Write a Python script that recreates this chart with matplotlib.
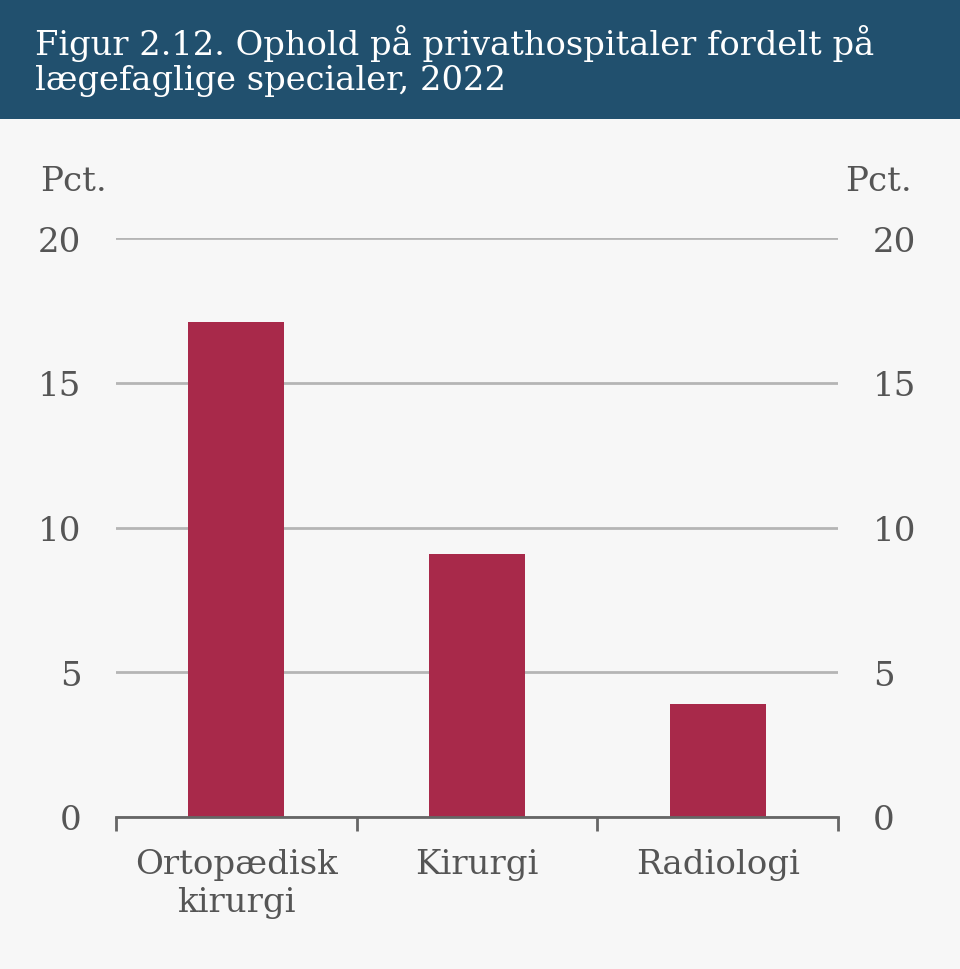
import matplotlib
matplotlib.use('Agg')
import matplotlib.pyplot as plt
from matplotlib.patches import Rectangle

# Data
kategorier = ['Ortopædisk\nkirurgi', 'Kirurgi', 'Radiologi']
andel = [17.1, 9.1, 3.9]
yticks = [0, 5, 10, 15, 20]

titel = 'Figur 2.12. Ophold på privathospitaler fordelt på\nlægefaglige specialer, 2022'

bg = '#f7f7f7'
header = '#21506e'
bar_color = '#a8294a'
text_color = '#555555'

plt.rcParams['font.family'] = ['DejaVu Serif']

fig = plt.figure(figsize=(9.6, 9.7), dpi=100, facecolor=bg)

# Header-bånd
fig.patches.append(Rectangle((0, 1 - 120 / 970), 1, 120 / 970, transform=fig.transFigure,
                             facecolor=header, edgecolor='none', zorder=0))
fig.text(35 / 960, 1 - 61 / 970, titel, color='white', fontsize=24.3, va='center', ha='left',
         linespacing=1.15)

ax = fig.add_axes([116 / 960, 1 - 818 / 970, 722 / 960, (818 - 239) / 970])
ax.set_facecolor(bg)

x = range(len(kategorier))
ax.bar(x, andel, width=0.4, color=bar_color, zorder=3)

ax.set_xlim(-0.5, len(kategorier) - 0.5)
ax.set_ylim(0, 20)
ax.set_yticks(yticks)
ax.grid(axis='y', color='#b5b5b5', linewidth=2, zorder=1)
ax.tick_params(axis='y', length=0, labelsize=24.5, labelcolor=text_color, pad=25,
               left=True, right=True, labelleft=True, labelright=True)

ax.set_xticks(x)
ax.set_xticklabels(kategorier, fontsize=24.5, color=text_color, linespacing=1.25)
ax.tick_params(axis='x', length=0, pad=22)
ax.set_xticks([-0.5, 0.5, 1.5, 2.5], minor=True)
ax.tick_params(axis='x', which='minor', length=10, width=2, color='#666666', direction='out')

for s in ['top', 'left', 'right']:
    ax.spines[s].set_visible(False)
ax.spines['bottom'].set_color('#666666')
ax.spines['bottom'].set_linewidth(2)
ax.spines['bottom'].set_zorder(4)

fig.text(40 / 960, 1 - 182 / 970, 'Pct.', fontsize=24.5, color=text_color, ha='left', va='center')
fig.text(912 / 960, 1 - 182 / 970, 'Pct.', fontsize=24.5, color=text_color, ha='right', va='center')

fig.savefig('out.png', dpi=100, facecolor=bg)
